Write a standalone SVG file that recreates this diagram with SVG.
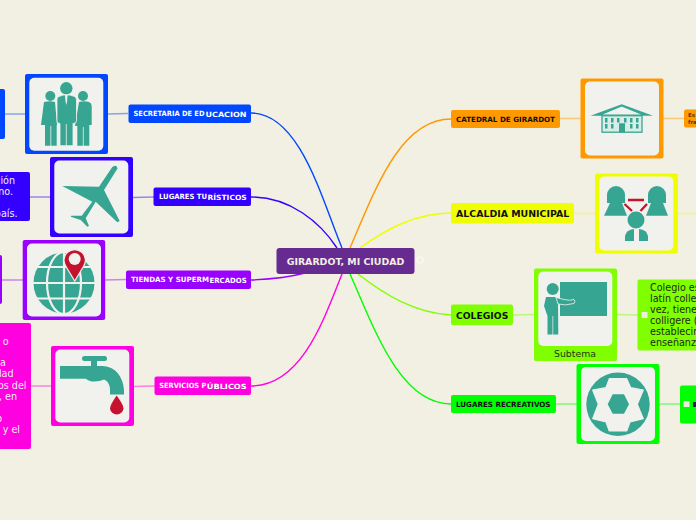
<svg xmlns="http://www.w3.org/2000/svg" width="696" height="520" viewBox="0 0 696 520">
<style>
text{font-family:"DejaVu Sans",Verdana,sans-serif}
.n{font-weight:bold;font-size:7.200px}
.w{fill:#fff}
.k{fill:#111}
.b{font-size:9.600px;fill:#f1eff0}
.d{font-size:9.600px;fill:#1d2a10}
.in{fill:#f1f1ed}
.t{fill:#36a693}
.r{fill:#c4122f}
.c{fill:none;stroke-width:1.400}
.s{fill:none;stroke-width:1.500;stroke-opacity:.45}
.chk{fill:#ededde}
</style>
<rect width="696" height="520" fill="#f2efe3"/>
<g id="connectors">
<path class="c" stroke="#0047ff" d="M342 248C322 200 300 113 251 113"/>
<path class="c" stroke="#3300ff" d="M337 248C320 222 290 197 251 197"/>
<path class="c" stroke="#9900ff" d="M305 273C290 277 275 279 251 280"/>
<path class="c" stroke="#ff00e1" d="M342 274C322 325 300 386 251 386"/>
<path class="c" stroke="#ff9900" d="M350 248C375 190 400 119 451 119"/>
<path class="c" stroke="#f0ff00" d="M360 248C385 230 415 213 451 213"/>
<path class="c" stroke="#80ff00" d="M358 274C385 295 415 313 451 315"/>
<path class="c" stroke="#00ff00" d="M350 274C375 330 400 404 451 404"/>
<path class="s" stroke="#0047ff" d="M128 113.500L108 114M25 114H5"/>
<path class="s" stroke="#3300ff" d="M154 197L133 197.500M50 197H30"/>
<path class="s" stroke="#9900ff" d="M126 279.500L105 280M23 280H2"/>
<path class="s" stroke="#ff00e1" d="M155 386L134 386.500M51 386H31"/>
<path class="s" stroke="#ff9900" d="M560 118.500H581M663 118.500H684"/>
<path class="s" stroke="#f0ff00" d="M574 213.500H595M678 213.500H696"/>
<path class="s" stroke="#80ff00" d="M513 315L534 314.500M617 314.500L638 315"/>
<path class="s" stroke="#00ff00" d="M556 404H577M660 404H680"/>
</g>
<g id="center">
<rect x="276.500" y="248" width="138" height="26" rx="3" fill="#662b91"/>
<text x="286.700" y="265" textLength="117.600" lengthAdjust="spacingAndGlyphs" font-size="9.300" font-weight="bold" fill="#f2efe3">GIRARDOT, MI CIUDAD</text>
<circle cx="420" cy="260" r="3.300" fill="none" stroke="#fff" stroke-width="1" opacity=".8"/>
</g>
<g id="secretaria">
<rect x="128.500" y="104.500" width="122.500" height="18.500" rx="2" fill="#0047ff"/>
<text class="n w" x="133.500" y="116" textLength="71" lengthAdjust="spacingAndGlyphs">SECRETARIA DE ED</text>
<text class="n w" x="205.500" y="117" textLength="41" lengthAdjust="spacingAndGlyphs">UCACION</text>
<rect x="25" y="74" width="83" height="80" rx="2" fill="#0047ff"/>
<rect class="in" x="29.300" y="77.700" width="74" height="73" rx="5"/>
<g class="t">
<circle cx="66.300" cy="88.300" r="6.200"/><circle cx="50.300" cy="96" r="5"/><circle cx="83" cy="96" r="5"/>
<path d="M44 102Q50 100.500 55 102L57 125H56.700V145.700H45V125H41Z"/>
<path d="M79 102Q84 100.500 89 102Q91.700 103 91.700 106V125H89.300V145.700H77.300V126H75Z"/>
<path d="M59 96.500L63 95H70L74.500 96.500Q76.500 97 76.500 100V121Q76.500 123.500 73 123.500V145.700H60V123.500Q57 123.500 57 121V99Q57 97 59 96.500Z" stroke="#f1f1ed" stroke-width=".8"/>
</g>
<path d="M50.800 126V146M83.300 127V146M66.300 124V146" stroke="#f1f1ed" stroke-width=".8" fill="none"/>
<path d="M65 95H67.600L67 102L66.300 105L65.600 102Z" fill="#f1f1ed"/>
</g>
<g id="box-secretaria"><rect x="-6" y="89" width="11" height="50" rx="2" fill="#0047ff"/></g>
<g id="turisticos">
<rect x="153.500" y="187.500" width="97.500" height="18.500" rx="2" fill="#3300ff"/>
<text class="n w" x="159" y="199" textLength="48" lengthAdjust="spacingAndGlyphs">LUGARES TU</text>
<text class="n w" x="207.500" y="200" textLength="39.200" lengthAdjust="spacingAndGlyphs">RÍSTICOS</text>
<rect x="50" y="157" width="83" height="80" rx="2" fill="#3300ff"/>
<rect class="in" x="54.300" y="160.500" width="74" height="73" rx="5"/>
<path class="t" d="M112.300 167Q117 164 117.500 168.500L104 190L119.700 221L117.300 222.300L95.700 201.700L85.700 218.300L89 226L87.300 226.700L80.700 220L70.700 216.700L71.300 215.700H81.700L92.300 201.700L62.300 186L99 186.700Z"/>
</g>
<g id="box-turisticos">
<rect x="-6" y="172" width="36" height="49" rx="2" fill="#3300ff"/>
<text class="b" x="15" y="184" text-anchor="end">ción</text>
<text class="b" x="13" y="195" text-anchor="end">no.</text>
<text class="b" x="17.500" y="217" text-anchor="end">país.</text>
</g>
<g id="tiendas">
<rect x="126" y="270.500" width="125" height="18.500" rx="2" fill="#9900ff"/>
<text class="n w" x="131" y="282" textLength="78" lengthAdjust="spacingAndGlyphs">TIENDAS Y SUPERM</text>
<text class="n w" x="209.500" y="283" textLength="37.200" lengthAdjust="spacingAndGlyphs">ERCADOS</text>
<rect x="22.700" y="240" width="82.500" height="80" rx="2" fill="#9900ff"/>
<rect class="in" x="27" y="243.500" width="74" height="73" rx="5"/>
<circle class="t" cx="64" cy="283" r="30.500"/>
<g fill="none" stroke="#f1f1ed" stroke-width="2.200">
<path d="M33 267H95M33 283H95M33 298.500H95M64 252V314"/>
<ellipse cx="64" cy="283" rx="17" ry="31"/>
</g>
<path class="r" d="M74.700 281L66 266.500A10.700 10.700 0 1 1 83.400 266.500Z" stroke="#f1f1ed" stroke-width="1.200"/>
<circle cx="74.700" cy="259" r="6" fill="#f1f1ed"/>
</g>
<g id="box-tiendas"><rect x="-6" y="255" width="8" height="49" rx="2" fill="#9900ff"/></g>
<g id="servicios">
<rect x="154.500" y="376.500" width="96.500" height="18.500" rx="2" fill="#ff00e1"/>
<text class="n w" x="159.300" y="388" textLength="47" lengthAdjust="spacingAndGlyphs">SERVICIOS P</text>
<text class="n w" x="206.800" y="389" textLength="39.900" lengthAdjust="spacingAndGlyphs">ÚBLICOS</text>
<rect x="51" y="346" width="83" height="80" rx="2" fill="#ff00e1"/>
<rect class="in" x="55.300" y="349.500" width="74" height="73" rx="5"/>
<g class="t">
<rect x="82" y="356" width="25" height="5" rx="2.500"/>
<rect x="91" y="360" width="6" height="8"/>
<path d="M60 366H103C116 367 123 377 124 390H110C110 385 108 381 104 379.500Q100 381.500 94 381.500Q89 381.500 86 378.700H60Z"/>
<rect x="110" y="390" width="14" height="4.500"/>
</g>
<path class="r" d="M116.700 395.500Q123.500 405 123.500 408.500A6.800 6.800 0 0 1 110 408.500Q110 405 116.700 395.500Z"/>
</g>
<g id="box-servicios">
<rect x="-6" y="323" width="37" height="126" rx="2" fill="#ff00e1"/>
<text class="b" x="8.500" y="345" text-anchor="end">o</text>
<text class="b" x="6" y="366" text-anchor="end">a</text>
<text class="b" x="13.500" y="377" text-anchor="end">dad</text>
<text class="b" x="26.500" y="389" text-anchor="end">os del</text>
<text class="b" x="17" y="400" text-anchor="end">, en</text>
<text class="b" x="2" y="422" text-anchor="end">o</text>
<text class="b" x="20" y="433" text-anchor="end">y el</text>
</g>
<g id="catedral">
<rect x="451" y="110" width="109" height="18" rx="2" fill="#ff9900"/>
<text class="n k" x="456" y="122" textLength="99" lengthAdjust="spacingAndGlyphs">CATEDRAL DE GIRARDOT</text>
<rect x="580.500" y="78.500" width="83" height="80" rx="2" fill="#ff9900"/>
<rect class="in" x="585" y="81.500" width="74" height="74" rx="5"/>
<path class="t" d="M621.700 104.300L653 115.700H590.500Z"/>
<path class="in" d="M621.700 106.500L641 114.500H602.500Z"/>
<rect x="602" y="115.700" width="40" height="16.500" fill="#d9ece6" stroke="#36a693" stroke-width="1.300"/>
<g class="t">
<rect x="605" y="118" width="2.500" height="4.500"/><rect x="611" y="118" width="2.500" height="4.500"/><rect x="617" y="118" width="2.500" height="4.500"/><rect x="624" y="118" width="2.500" height="4.500"/><rect x="630" y="118" width="2.500" height="4.500"/><rect x="636" y="118" width="2.500" height="4.500"/>
<rect x="605" y="124" width="2.500" height="4.500"/><rect x="611" y="124" width="2.500" height="4.500"/><rect x="630" y="124" width="2.500" height="4.500"/><rect x="636" y="124" width="2.500" height="4.500"/>
<rect x="619" y="123.300" width="6" height="9"/>
</g>
</g>
<g id="box-catedral">
<rect x="684" y="109.500" width="20" height="18" rx="2" fill="#ff9900"/>
<text x="688" y="117" font-size="5.500" font-weight="bold" fill="#5a3a05">Es</text>
<text x="688" y="124" font-size="5.500" font-weight="bold" fill="#5a3a05">fra</text>
</g>
<g id="alcaldia">
<rect x="451" y="203" width="123" height="20.500" rx="2" fill="#f0ff00"/>
<text x="456" y="217" font-size="9.200" font-weight="bold" fill="#111" textLength="113.300" lengthAdjust="spacingAndGlyphs">ALCALDIA MUNICIPAL</text>
<rect x="595" y="173.500" width="83" height="80" rx="2" fill="#f0ff00"/>
<rect class="in" x="599.300" y="176.500" width="74" height="74" rx="5"/>
<g class="t">
<path d="M607 195A9 9 0 0 1 625 195V203H607Z"/>
<path d="M648 195A9 9 0 0 1 666 195V203H648Z"/>
<path d="M610 203L604 215.700H627L622 203Z"/>
<path d="M651 203L646 215.700H668L663 203Z"/>
<circle cx="636" cy="220" r="8.500"/>
<path d="M625 241V236Q626 230 634 229V241Z"/>
<path d="M639 229Q647 230 648 236V241H639Z"/>
</g>
<g stroke="#c4122f" stroke-width="2.300" fill="none"><path d="M628 200H644M624.500 204L632 211M647 204L640.500 211"/></g>
</g>
<g id="colegios">
<rect x="451" y="304.500" width="62" height="20.500" rx="2" fill="#80ff00"/>
<text x="456" y="319" font-size="9.200" font-weight="bold" fill="#111" textLength="52.300" lengthAdjust="spacingAndGlyphs">COLEGIOS</text>
<rect x="534" y="268.500" width="83" height="92.500" rx="2" fill="#80ff00"/>
<rect class="in" x="538.300" y="271.500" width="74" height="74.500" rx="5"/>
<rect class="t" x="560" y="282" width="47" height="34"/>
<circle class="t" cx="552.700" cy="289" r="6"/>
<path class="t" d="M546 297H555L558 299L558.300 334.500H547.500V316L544 306Z"/>
<path d="M552.800 316V335" stroke="#f1f1ed" stroke-width=".7"/>
<path class="t" d="M556 297.500L564 299.500Q570 301 574 299.500Q576 301.500 574 303.500Q565 306 558 304Z" stroke="#f1f1ed" stroke-width=".8"/>
<text x="575" y="357" text-anchor="middle" font-size="9.300" fill="#25350f">Subtema</text>
</g>
<g id="box-colegios">
<rect x="637.500" y="279.500" width="66" height="71" rx="2" fill="#80ff00"/>
<rect class="chk" x="641.500" y="312" width="6" height="6"/>
<text class="d" x="650" y="291">Colegio es</text>
<text class="d" x="650" y="302">latín colleg</text>
<text class="d" x="650" y="313">vez, tiene</text>
<text class="d" x="650" y="324">colligere ('</text>
<text class="d" x="650" y="335">establecim</text>
<text class="d" x="650" y="346">enseñanza</text>
</g>
<g id="recreativos">
<rect x="451" y="395" width="105" height="18" rx="2" fill="#00ff00"/>
<text class="n k" x="456" y="407" textLength="94.500" lengthAdjust="spacingAndGlyphs">LUGARES RECREATIVOS</text>
<rect x="576.500" y="364" width="83" height="80" rx="2" fill="#00ff00"/>
<rect class="in" x="581" y="367" width="74" height="74" rx="5"/>
<circle class="t" cx="618" cy="404.300" r="31.700"/>
<path class="in" stroke="#f1f1ed" stroke-width="1.200" stroke-linejoin="round" d="M609.300 378.700H626.700L630.700 387.700L643.300 390L637.300 404.300L643.300 418.700L630 422L626.700 431H609.300L606 422L592.700 418.700L598.300 404.300L592.700 390L606 387.700Z"/>
<path class="t" d="M612.700 394.300H624L629 404.300L624 413.700H612.700L607.700 404.300Z"/>
</g>
<g id="box-recreativos">
<rect x="680" y="385.500" width="24" height="38" rx="2" fill="#00ff00"/>
<rect class="chk" x="683.500" y="401" width="6" height="6"/>
<path d="M693 402H696V407H693Z" fill="#2a1a60"/>
</g>
</svg>
